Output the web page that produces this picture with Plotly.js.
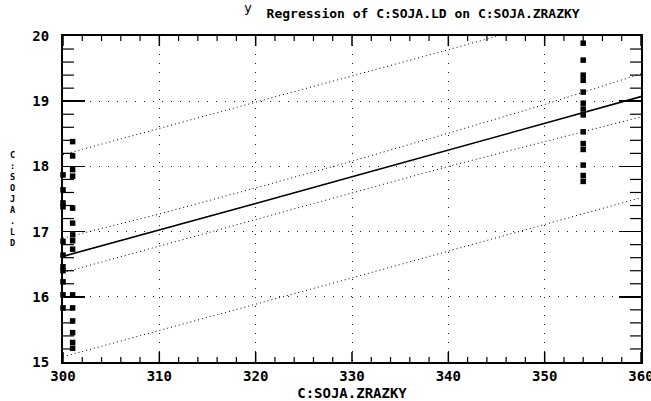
<!DOCTYPE html>
<html><head>
<meta charset="utf-8">
<script src="https://cdn.plot.ly/plotly-3.0.1.min.js"></script>
<style>body{margin:0;background:#fff}</style>
</head><body>
<div id="chart" style="width:651px;height:401px"></div>
<script>
// ---- data ----
const titleText = "Regression of C:SOJA.LD on C:SOJA.ZRAZKY";
const xTitleText = "C:SOJA.ZRAZKY";
const yTitleText = "C:SOJA.LD";

const obsXA = 300;
const obsYA = [17.87, 17.64, 17.44, 17.38, 16.85, 16.64, 16.46, 16.40, 16.23, 16.03, 15.83];
const obsXB = 301;
const obsYB = [18.38, 18.16, 17.95, 17.85, 17.36, 17.13, 16.95, 16.86, 16.73, 16.03, 15.83, 15.63, 15.45, 15.30, 15.21];
const obsXC = 354;
const obsYC = [19.89, 19.63, 19.40, 19.32, 19.14, 18.97, 18.88, 18.79, 18.53, 18.35, 18.26, 18.02, 17.86, 17.77];

const fitX      = [300, 310, 320, 330, 340, 350, 360];
const fitY      = [16.62, 17.02, 17.43, 17.84, 18.25, 18.66, 19.07];
const confUpper = [16.90, 17.27, 17.67, 18.08, 18.51, 18.95, 19.42];
const confLower = [16.37, 16.78, 17.19, 17.60, 18.00, 18.38, 18.76];
const predUpper = [18.18, 18.58, 18.98, 19.38, 19.79, 20.20, 20.62];
const predLower = [15.08, 15.48, 15.88, 16.29, 16.70, 17.11, 17.52];

const xRange = [300, 360];
const yRange = [15, 20];
const xMajorStep = 10, xMinorStep = 2;
const yMajorStep = 1,  yMinorStep = 0.2;

// ---- chart ----
const FONT = "DejaVu Sans Mono, Liberation Mono, monospace";
const ink = "#000";
const W = 651, H = 401;
const M = {l: 63, r: 10, t: 36, b: 39};
const plotW = W - M.l - M.r, plotH = H - M.t - M.b;
const xUnitPx = plotW / (xRange[1] - xRange[0]);
const yUnitPx = plotH / (yRange[1] - yRange[0]);

function rep(v, n){ return Array(n).fill(v); }
function steps(r, s){
  const out = [];
  const n = Math.round((r[1] - r[0]) / s);
  for (let i = 0; i <= n; i++) out.push(+(r[0] + i * s).toFixed(6));
  return out;
}

// tick-mark segments built from the axis tick values (axis decoration)
function xTickSegs(vals, lenPx){
  const d = lenPx / yUnitPx, xs = [], ys = [];
  vals.forEach(v => {
    xs.push(v, v, null, v, v, null);
    ys.push(yRange[0], yRange[0] + d, null, yRange[1], yRange[1] - d, null);
  });
  return {xs, ys};
}
function yTickSegs(vals, lenPx){
  const d = lenPx / xUnitPx, xs = [], ys = [];
  vals.forEach(v => {
    xs.push(xRange[0], xRange[0] + d, null, xRange[1], xRange[1] - d, null);
    ys.push(v, v, null, v, v, null);
  });
  return {xs, ys};
}
const xMajor = steps(xRange, xMajorStep);
const xMinor = steps(xRange, xMinorStep).filter(v => !xMajor.includes(v));
const yMajor = steps(yRange, yMajorStep);
const yMinor = steps(yRange, yMinorStep).filter(v => !yMajor.includes(v));
const xMajSeg = xTickSegs(xMajor, 10), xMinSeg = xTickSegs(xMinor, 5);
const yMinSeg = yTickSegs(yMinor, 11);

const dotted = {color: ink, width: 1, dash: "1px,3px"};
const tickTrace = (s, w) => ({x: s.xs, y: s.ys, mode: "lines", connectgaps: false,
  line: {color: ink, width: w}, hoverinfo: "skip"});

const traces = [
  tickTrace(xMajSeg, 1.5), tickTrace(xMinSeg, 1.2), tickTrace(yMinSeg, 1.2),
  {x: fitX, y: predUpper, mode: "lines", line: dotted, hoverinfo: "skip"},
  {x: fitX, y: predLower, mode: "lines", line: dotted, hoverinfo: "skip"},
  {x: fitX, y: confUpper, mode: "lines", line: dotted, hoverinfo: "skip"},
  {x: fitX, y: confLower, mode: "lines", line: dotted, hoverinfo: "skip"},
  {x: fitX, y: fitY, mode: "lines", line: {color: ink, width: 1.6}},
  {
    x: rep(obsXA, obsYA.length).concat(rep(obsXB, obsYB.length), rep(obsXC, obsYC.length)),
    y: obsYA.concat(obsYB, obsYC),
    mode: "markers", cliponaxis: false,
    marker: {symbol: "square", size: 5.5, color: ink, line: {width: 0}}
  }
];

const annotations = [
  {
    text: Array.from(yTitleText).join("<br>"), xref: "paper", yref: "paper",
    x: -0.087, y: 0.5, showarrow: false, xanchor: "center", yanchor: "middle",
    font: {family: FONT, size: 8.5, color: ink, weight: "bold"}
  },
  {
    text: "y", xref: "paper", yref: "paper", x: 0.32, y: 1.088,
    showarrow: false, xanchor: "center", yanchor: "middle",
    font: {family: FONT, size: 13, color: ink}
  }
];

const tickFont = {family: FONT, size: 14, color: ink, weight: "bold"};

const layout = {
  width: W, height: H,
  margin: M,
  paper_bgcolor: "#fff", plot_bgcolor: "#fff",
  showlegend: false,
  title: {text: titleText, x: 0.65, xanchor: "center", y: 0.967, yanchor: "middle",
          font: {family: FONT, size: 13, color: ink, weight: "bold"}},
  xaxis: {
    range: xRange, tickmode: "linear", tick0: xRange[0], dtick: xMajorStep,
    showline: true, linecolor: ink, linewidth: 2, mirror: true,
    ticks: "",
    showgrid: true, gridcolor: "#222", gridwidth: 1, griddash: "1px,8px",
    zeroline: false, fixedrange: true, ticklabeloverflow: "allow",
    tickfont: tickFont,
    title: {text: xTitleText, standoff: 5, font: {family: FONT, size: 14, color: ink, weight: "bold"}}
  },
  yaxis: {
    range: yRange, tickmode: "linear", tick0: yRange[0], dtick: yMajorStep,
    showline: true, linecolor: ink, linewidth: 2, mirror: "ticks",
    ticks: "inside", ticklen: 22, tickwidth: 1.5, tickcolor: ink,
    showgrid: true, gridcolor: "#222", gridwidth: 1, griddash: "1px,8px",
    zeroline: false, fixedrange: true, ticklabelstandoff: 9,
    tickfont: tickFont
  },
  annotations: annotations
};

Plotly.newPlot("chart", traces, layout, {staticPlot: true, displayModeBar: false});
</script>
</body></html>
